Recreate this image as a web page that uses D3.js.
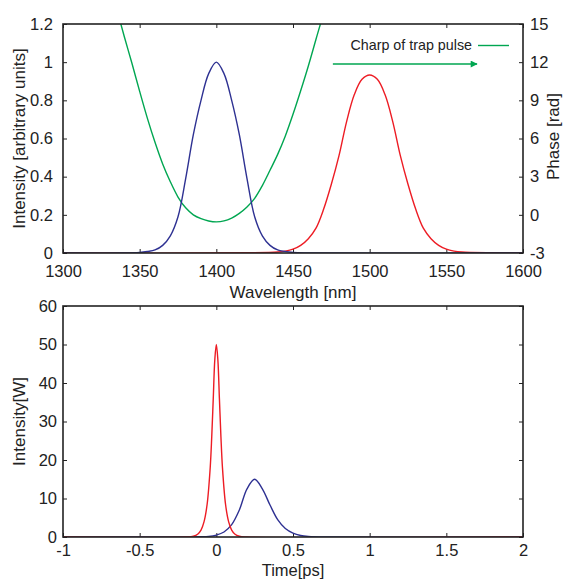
<!DOCTYPE html>
<html>
<head>
<meta charset="utf-8">
<script src="https://cdn.jsdelivr.net/npm/d3@7"></script>
<style>
  body { margin: 0; background: #fff; }
  svg { font-family: "Liberation Sans", Arial, sans-serif; }
  .tick text { fill: #222; }
</style>
</head>
<body>
<svg id="chart"></svg>
<script>
// ---- data ----
// top panel: spectra (intensity) vs wavelength [nm]
let specBlueWl  = [1300, 1340, 1350, 1355, 1360, 1365, 1370, 1375, 1380, 1385, 1390, 1395, 1400, 1405, 1410, 1415, 1420, 1425, 1430, 1435, 1440, 1450, 1460, 1600];
let specBlueI   = [0, 0, 0.003, 0.008, 0.016, 0.04, 0.09, 0.19, 0.39, 0.62, 0.80, 0.94, 1.0, 0.94, 0.80, 0.62, 0.39, 0.19, 0.09, 0.04, 0.016, 0.003, 0, 0];
let specRedWl   = [1300, 1420, 1440, 1445, 1450, 1455, 1460, 1465, 1470, 1475, 1480, 1485, 1490, 1495, 1500, 1505, 1510, 1515, 1520, 1525, 1530, 1535, 1540, 1545, 1550, 1555, 1560, 1580, 1600];
let specRedI    = [0, 0.001, 0.005, 0.01, 0.02, 0.04, 0.075, 0.13, 0.23, 0.36, 0.51, 0.69, 0.83, 0.91, 0.933, 0.91, 0.83, 0.69, 0.51, 0.36, 0.23, 0.13, 0.075, 0.04, 0.02, 0.01, 0.005, 0.001, 0];
// chirp (phase, rad) of trap pulse
let phaseWl     = [1330, 1335, 1340, 1345, 1350, 1355, 1360, 1365, 1370, 1375, 1380, 1385, 1390, 1395, 1400,
                   1405, 1410, 1415, 1420, 1425, 1430, 1435, 1440, 1445, 1450, 1455, 1460, 1465, 1470, 1475];
let phaseRad    = [18.4, 16.2, 14.0, 11.9, 9.7, 7.6, 5.7, 4.0, 2.6, 1.4, 0.55, 0.0, -0.3, -0.48, -0.55,
                   -0.48, -0.25, 0.12, 0.62, 1.3, 2.3, 3.5, 4.75, 6.2, 7.9, 9.75, 11.7, 13.8, 15.9, 18.2];

// bottom panel: intensity [W] vs time [ps]
let pulseRedT   = [-1, -0.2, -0.15, -0.12, -0.1, -0.08, -0.06, -0.04, -0.03, -0.02, -0.01, 0, 0.01, 0.02, 0.03, 0.04, 0.06, 0.08, 0.1, 0.12, 0.15, 0.2, 2];
let pulseRedI   = [0, 0, 0.2, 0.8, 1.8, 4, 8.5, 18, 26, 36, 46, 50, 46, 36, 26, 18, 8.5, 4, 1.8, 0.8, 0.2, 0, 0];
let pulseBlueT  = [-1, -0.2, -0.1, -0.05, 0, 0.05, 0.1, 0.15, 0.2, 0.25, 0.3, 0.35, 0.4, 0.45, 0.5, 0.55, 0.6, 0.7, 2];
let pulseBlueI  = [0, 0, 0.05, 0.15, 0.5, 1.3, 3.2, 7, 12.5, 15, 12.5, 8.3, 4.5, 2.2, 1.0, 0.4, 0.15, 0, 0];

// axes
let wlTicks     = [1300, 1350, 1400, 1450, 1500, 1550, 1600];
let intTicks    = [0, 0.2, 0.4, 0.6, 0.8, 1, 1.2];
let phaseTicks  = [-3, 0, 3, 6, 9, 12, 15];
let timeTicks   = [-1, -0.5, 0, 0.5, 1, 1.5, 2];
let powTicks    = [0, 10, 20, 30, 40, 50, 60];

let legendText  = "Charp of trap pulse";

// ---- layout ----
let w = 564;
let h = 580;
let leftx = 63;
let rightx = 523;
let top1 = 24, bot1 = 253;
let top2 = 306, bot2 = 537;

let blue = "#2e3192";
let red = "#ed1c24";
let green = "#00a651";
let ink = "#222";
let tickfont = 16.5;
let labelfont = 17;

let svg = d3.select("#chart").attr("width", w).attr("height", h);

let defs = svg.append("defs");
defs.append("clipPath").attr("id", "clip1")
  .append("rect").attr("x", leftx).attr("y", top1).attr("width", rightx - leftx).attr("height", bot1 - top1);
defs.append("clipPath").attr("id", "clip2")
  .append("rect").attr("x", leftx).attr("y", top2).attr("width", rightx - leftx).attr("height", bot2 - top2);
defs.append("marker").attr("id", "arrowhead")
  .attr("viewBox", "0 0 10 10").attr("refX", 9).attr("refY", 5)
  .attr("markerWidth", 9).attr("markerHeight", 7).attr("markerUnits", "userSpaceOnUse")
  .attr("orient", "auto")
  .append("path").attr("d", "M0,0 L10,5 L0,10 Z").attr("fill", green);

function zip(xs, ys) { return xs.map((x, i) => [x, ys[i]]); }
let plain = d => String(d);   // hyphen minus like the original

function style_axis(g) {
  g.select(".domain").remove();
  g.selectAll(".tick line").attr("stroke", ink).attr("stroke-width", 1);
  g.selectAll(".tick text").style("font-size", tickfont + "px");
}

function frame(top, bot) {
  svg.append("rect")
    .attr("x", leftx).attr("y", top)
    .attr("width", rightx - leftx).attr("height", bot - top)
    .attr("fill", "none").attr("stroke", ink).attr("stroke-width", 1.6);
}

// ================= top panel =================
let x1 = d3.scaleLinear().domain([1300, 1600]).range([leftx, rightx]);
let y1 = d3.scaleLinear().domain([0, 1.2]).range([bot1, top1]);
let yp = d3.scaleLinear().domain([-3, 15]).range([bot1, top1]);

svg.append("g").attr("transform", `translate(0,${bot1})`)
  .call(d3.axisTop(x1).tickValues(wlTicks).tickSize(4).tickFormat(""))
  .call(style_axis);
svg.append("g").attr("transform", `translate(0,${bot1})`)
  .call(d3.axisBottom(x1).tickValues(wlTicks).tickSize(0).tickPadding(12).tickFormat(plain))
  .call(style_axis);
svg.append("g").attr("transform", `translate(0,${top1})`)
  .call(d3.axisBottom(x1).tickValues(wlTicks).tickSize(4).tickFormat(""))
  .call(style_axis);
svg.append("g").attr("transform", `translate(${leftx},0)`)
  .call(d3.axisRight(y1).tickValues(intTicks).tickSize(4).tickFormat(""))
  .call(style_axis);
svg.append("g").attr("transform", `translate(${leftx},0)`)
  .call(d3.axisLeft(y1).tickValues(intTicks).tickSize(0).tickPadding(10).tickFormat(plain))
  .call(style_axis);
svg.append("g").attr("transform", `translate(${rightx},0)`)
  .call(d3.axisLeft(yp).tickValues(phaseTicks).tickSize(4).tickFormat(""))
  .call(style_axis);
svg.append("g").attr("transform", `translate(${rightx},0)`)
  .call(d3.axisRight(yp).tickValues(phaseTicks).tickSize(0).tickPadding(7).tickFormat(plain))
  .call(style_axis);

let plot1 = svg.append("g").attr("clip-path", "url(#clip1)");
let lineI1 = d3.line().x(d => x1(d[0])).y(d => y1(d[1])).curve(d3.curveCatmullRom.alpha(0.5));
let lineP = d3.line().x(d => x1(d[0])).y(d => yp(d[1])).curve(d3.curveCatmullRom.alpha(0.5));

plot1.append("path").datum(zip(phaseWl, phaseRad))
  .attr("d", lineP).attr("fill", "none").attr("stroke", green).attr("stroke-width", 1.4);
plot1.append("path").datum(zip(specRedWl, specRedI))
  .attr("d", lineI1).attr("fill", "none").attr("stroke", red).attr("stroke-width", 1.4);
plot1.append("path").datum(zip(specBlueWl, specBlueI))
  .attr("d", lineI1).attr("fill", "none").attr("stroke", blue).attr("stroke-width", 1.4);

// legend + arrow
svg.append("text")
  .attr("x", 472).attr("y", 50)
  .attr("text-anchor", "end")
  .style("font-size", "14.3px").attr("fill", ink)
  .text(legendText);
svg.append("line")
  .attr("x1", 478).attr("x2", 509).attr("y1", 45.5).attr("y2", 45.5)
  .attr("stroke", green).attr("stroke-width", 1.4);
svg.append("line")
  .attr("x1", x1(1476)).attr("x2", x1(1570)).attr("y1", y1(0.99)).attr("y2", y1(0.99))
  .attr("stroke", green).attr("stroke-width", 1.4)
  .attr("marker-end", "url(#arrowhead)");

frame(top1, bot1);

svg.append("text")
  .attr("transform", `translate(19,${(top1 + bot1) / 2}) rotate(-90)`)
  .attr("text-anchor", "middle").attr("dy", "0.35em")
  .style("font-size", labelfont + "px").attr("fill", ink)
  .text("Intensity [arbitrary units]");
svg.append("text")
  .attr("transform", `translate(559,${(top1 + bot1) / 2 - 2}) rotate(-90)`)
  .attr("text-anchor", "middle")
  .style("font-size", labelfont + "px").attr("fill", ink)
  .text("Phase [rad]");
svg.append("text")
  .attr("x", (leftx + rightx) / 2).attr("y", 292).attr("dy", "0.35em")
  .attr("text-anchor", "middle")
  .style("font-size", labelfont + "px").attr("fill", ink)
  .text("Wavelength [nm]");

// ================= bottom panel =================
let x2 = d3.scaleLinear().domain([-1, 2]).range([leftx, rightx]);
let y2 = d3.scaleLinear().domain([0, 60]).range([bot2, top2]);

svg.append("g").attr("transform", `translate(0,${bot2})`)
  .call(d3.axisTop(x2).tickValues(timeTicks).tickSize(4).tickFormat(""))
  .call(style_axis);
svg.append("g").attr("transform", `translate(0,${bot2})`)
  .call(d3.axisBottom(x2).tickValues(timeTicks).tickSize(0).tickPadding(7).tickFormat(plain))
  .call(style_axis);
svg.append("g").attr("transform", `translate(0,${top2})`)
  .call(d3.axisBottom(x2).tickValues(timeTicks).tickSize(4).tickFormat(""))
  .call(style_axis);
svg.append("g").attr("transform", `translate(${leftx},0)`)
  .call(d3.axisRight(y2).tickValues(powTicks).tickSize(4).tickFormat(""))
  .call(style_axis);
svg.append("g").attr("transform", `translate(${leftx},0)`)
  .call(d3.axisLeft(y2).tickValues(powTicks).tickSize(0).tickPadding(6).tickFormat(plain))
  .call(style_axis);
svg.append("g").attr("transform", `translate(${rightx},0)`)
  .call(d3.axisLeft(y2).tickValues(powTicks).tickSize(4).tickFormat(""))
  .call(style_axis);

let plot2 = svg.append("g").attr("clip-path", "url(#clip2)");
let lineI2 = d3.line().x(d => x2(d[0])).y(d => y2(d[1])).curve(d3.curveCatmullRom.alpha(0.5));

plot2.append("path").datum(zip(pulseBlueT, pulseBlueI))
  .attr("d", lineI2).attr("fill", "none").attr("stroke", blue).attr("stroke-width", 1.4);
plot2.append("path").datum(zip(pulseRedT, pulseRedI))
  .attr("d", lineI2).attr("fill", "none").attr("stroke", red).attr("stroke-width", 1.4);

frame(top2, bot2);

svg.append("text")
  .attr("transform", `translate(19,${(top2 + bot2) / 2}) rotate(-90)`)
  .attr("text-anchor", "middle").attr("dy", "0.35em")
  .style("font-size", labelfont + "px").attr("fill", ink)
  .text("Intensity[W]");
svg.append("text")
  .attr("x", (leftx + rightx) / 2).attr("y", 570).attr("dy", "0.35em")
  .attr("text-anchor", "middle")
  .style("font-size", "16.5px").attr("fill", ink)
  .text("Time[ps]");
</script>
</body>
</html>
